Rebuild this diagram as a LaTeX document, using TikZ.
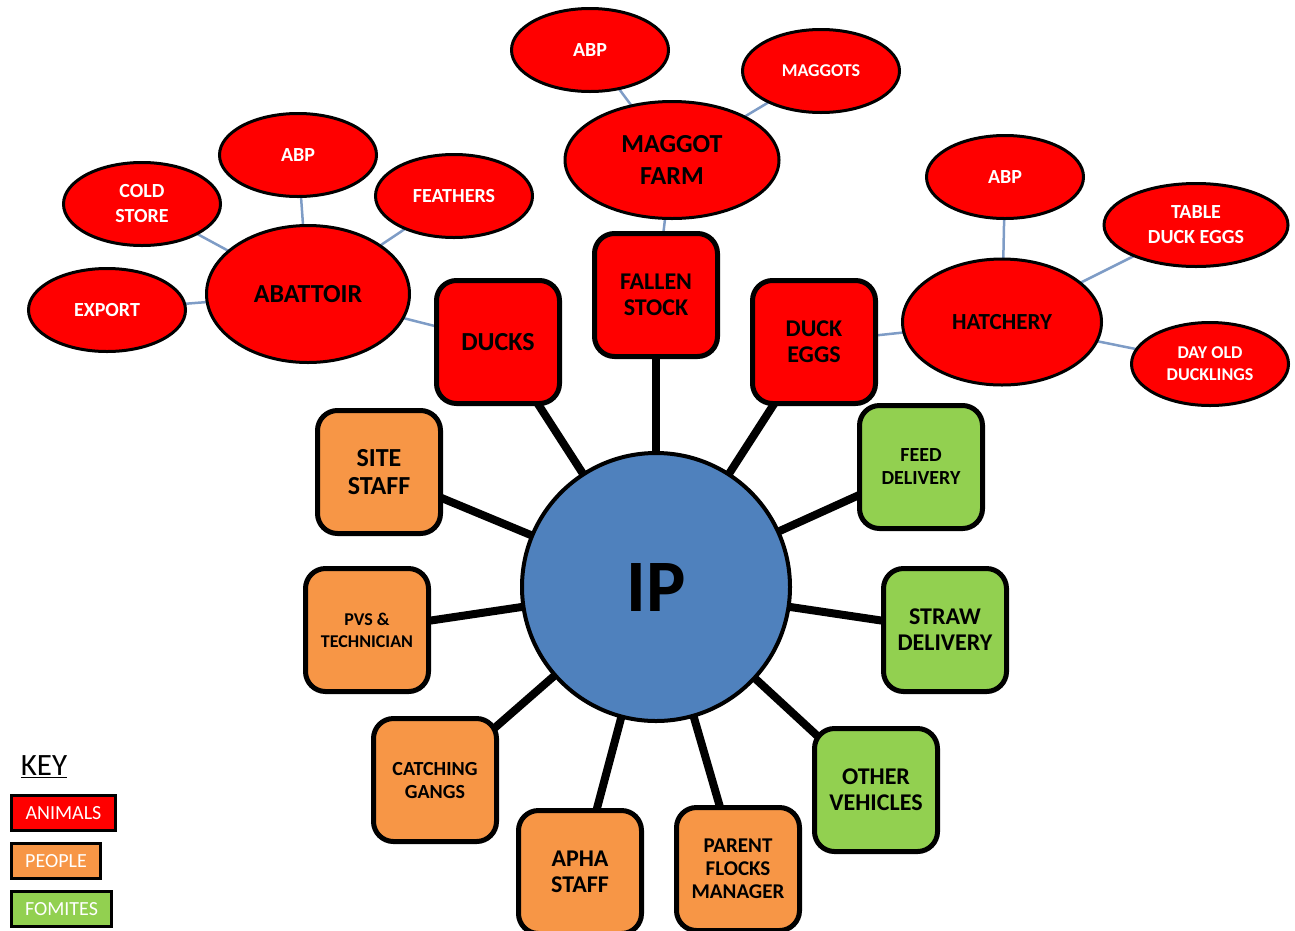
\documentclass[tikz,border=0pt]{standalone}
\usepackage{fontspec}
\setmainfont{Carlito}
\usetikzlibrary{shapes.geometric,backgrounds}
\definecolor{animal}{HTML}{FF0000}
\definecolor{people}{HTML}{F79646}
\definecolor{fomite}{HTML}{92D050}
\definecolor{ipblue}{HTML}{4F81BD}
\definecolor{twigblue}{HTML}{7E9CC6}
\newcommand\setfs[2]{\fontsize{#1}{#2}\selectfont}

\tikzset{
  source/.style={draw,line width=5,rounded corners=20,minimum width=123,minimum height=123,
    align=center,inner sep=2,font=\bfseries\setfs{24}{26}},
  animalbox/.style={source,fill=animal},
  peoplebox/.style={source,fill=people},
  fomitebox/.style={source,fill=fomite},
  hub/.style={ellipse,draw,line width=3,fill=animal,inner sep=0,align=center,
    font=\bfseries\setfs{26}{32}},
  leaf/.style={ellipse,draw,line width=3,fill=animal,inner sep=0,align=center,
    minimum width=157,minimum height=83,text=white,font=\bfseries\setfs{20}{25}},
  spoke/.style={line width=8},
  twig/.style={twigblue,line width=2.5},
  keybox/.style={draw,line width=3,minimum height=35,inner sep=0,text=white,
    font=\setfs{20}{22}}
}

\begin{document}
\begin{tikzpicture}[x=1pt,y=-1pt]
  \useasboundingbox (0,0) rectangle (1295,930);
  % centre
  \node[circle,draw,line width=4,fill=ipblue,minimum size=268,
    font=\bfseries\setfs{74}{80}] (ip) at (656,587) {IP};
  % animals
  \node[animalbox,font=\bfseries\setfs{26}{28}] (ducks) at (498,342) {DUCKS};
  \node[animalbox] (fallen) at (656,295) {FALLEN\\STOCK};
  \node[animalbox] (duckeggs) at (814,342) {DUCK\\EGGS};
  % people
  \node[peoplebox,font=\bfseries\setfs{26}{28}] (sitestaff) at (379,472) {SITE\\STAFF};
  \node[peoplebox,font=\bfseries\setfs{18}{22}] (pvs) at (367,630) {PVS \&\\TECHNICIAN};
  \node[peoplebox,font=\bfseries\setfs{20}{23}] (catching) at (435,780) {CATCHING\\GANGS};
  \node[peoplebox] (apha) at (580,872) {APHA\\STAFF};
  \node[peoplebox,font=\bfseries\setfs{21}{23}] (parent) at (738,869) {PARENT\\FLOCKS\\MANAGER};
  % fomites
  \node[fomitebox,font=\bfseries\setfs{20}{23}] (feed) at (921,467) {FEED\\DELIVERY};
  \node[fomitebox] (straw) at (945,630) {STRAW\\DELIVERY};
  \node[fomitebox] (vehicles) at (876,790) {OTHER\\VEHICLES};
  % onward links
  \node[hub,minimum width=203,minimum height=137] (abattoir) at (308,294) {ABATTOIR};
  \node[leaf] (export) at (107,310) {EXPORT};
  \node[leaf] (coldstore) at (142,204) {COLD\\STORE};
  \node[leaf] (abpA) at (298,155) {ABP};
  \node[leaf] (feathers) at (454,196) {FEATHERS};
  \node[hub,minimum width=214,minimum height=117] (maggotfarm) at (672,160) {MAGGOT\\FARM};
  \node[leaf] (abpM) at (590,50) {ABP};
  \node[leaf,font=\bfseries\setfs{18}{22}] (maggots) at (821,71) {MAGGOTS};
  \node[hub,minimum width=199,minimum height=126,font=\bfseries\setfs{23}{26}] (hatchery) at (1002,322) {HATCHERY};
  \node[leaf] (abpH) at (1005,177) {ABP};
  \node[leaf,minimum width=184] (tableeggs) at (1196,225) {TABLE\\DUCK EGGS};
  \node[leaf,font=\bfseries\setfs{18}{22}] (ducklings) at (1210,364) {DAY OLD\\DUCKLINGS};
  % key
  \node[font=\setfs{31}{34},inner sep=0] (key) at (44,767) {\underline{KEY}};
  \node[keybox,fill=animal,minimum width=104] (keyanimals) at (63.5,813) {ANIMALS};
  \node[keybox,fill=people,minimum width=89] (keypeople) at (56,861) {PEOPLE};
  \node[keybox,fill=fomite,minimum width=100] (keyfomites) at (61.5,909) {FOMITES};

  \begin{scope}[on background layer]
    \foreach \n in {ducks,fallen,duckeggs,sitestaff,pvs,catching,apha,parent,feed,straw,vehicles}
      \draw[spoke] (ip.center) -- (\n.center);
    \foreach \n in {export,coldstore,abpA,feathers,ducks}
      \draw[twig] (abattoir.center) -- (\n.center);
    \foreach \n in {abpM,maggots,fallen}
      \draw[twig] (maggotfarm.center) -- (\n.center);
    \foreach \n in {abpH,tableeggs,ducklings,duckeggs}
      \draw[twig] (hatchery.center) -- (\n.center);
  \end{scope}
\end{tikzpicture}
\end{document}
